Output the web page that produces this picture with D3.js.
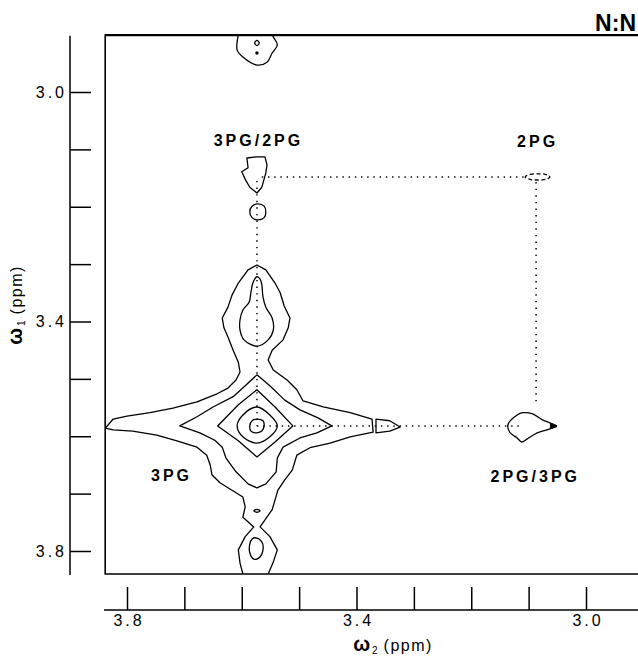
<!DOCTYPE html>
<html><head><meta charset="utf-8">
<script src="https://cdn.jsdelivr.net/npm/d3@7"></script>
<style>
body{margin:0;background:#fff}
svg text{font-family:"Liberation Sans",Arial,Helvetica,sans-serif;fill:#000}
</style>
</head><body>
<svg id="chart" width="638" height="659"></svg>
<script>
// ---------- data (ppm) ----------
const w2Domain = [3.8, 3.0];          // omega2 (horizontal)
const w1Domain = [3.0, 3.8];          // omega1 (vertical)
const frameW2 = [3.838, 2.85];
const frameW1 = [2.9007, 3.840];
const leftAxisW1 = [2.902, 3.842];
const bottomAxisW2 = [3.840, 2.85];
const tickValues = [3.0, 3.1, 3.2, 3.3, 3.4, 3.5, 3.6, 3.7, 3.8];
const labeledTicks = ["3.0", "3.4", "3.8"];

// outer contour of the 3PG diagonal peak (open: runs to the plot border)
const outerContour = [
[3.598,3.840],[3.603,3.821],[3.606,3.798],[3.594,3.775],[3.579,3.758],[3.598,3.741],[3.594,3.723],[3.598,3.706],
[3.617,3.694],[3.638,3.681],[3.652,3.667],[3.655,3.650],[3.661,3.633],[3.678,3.619],[3.713,3.608],[3.748,3.598],
[3.790,3.591],[3.824,3.589],[3.838,3.586],[3.824,3.570],[3.800,3.565],[3.760,3.559],[3.720,3.551],[3.678,3.540],
[3.643,3.526],[3.624,3.516],[3.610,3.502],[3.603,3.488],[3.606,3.471],[3.615,3.450],[3.624,3.427],[3.631,3.411],
[3.634,3.394],[3.624,3.375],[3.617,3.354],[3.606,3.333],[3.589,3.310],[3.5735,3.3015],[3.558,3.310],[3.542,3.333],
[3.533,3.350],[3.526,3.373],[3.516,3.394],[3.519,3.411],[3.528,3.432],[3.547,3.450],[3.554,3.467],[3.545,3.4845],
[3.521,3.502],[3.504,3.519],[3.493,3.5385],[3.458,3.549],[3.411,3.559],[3.373,3.570],[3.371,3.593],[3.411,3.601],
[3.446,3.612],[3.481,3.620],[3.504,3.633],[3.512,3.659],[3.525,3.676],[3.537,3.694],[3.542,3.711],[3.547,3.728],
[3.568,3.758],[3.551,3.775],[3.538,3.798],[3.545,3.819],[3.554,3.840]
];
const topLobe = [
[3.5735,3.322],[3.580,3.331],[3.584,3.349],[3.587,3.366],[3.598,3.380],[3.603,3.397],[3.603,3.415],[3.596,3.432],
[3.5735,3.443],[3.554,3.432],[3.545,3.415],[3.547,3.394],[3.558,3.375],[3.563,3.357],[3.565,3.336],[3.568,3.326]
];
const level2 = [
[3.5735,3.493],[3.594,3.512],[3.615,3.531],[3.650,3.549],[3.678,3.566],[3.708,3.582],[3.673,3.594],[3.647,3.607],
[3.634,3.619],[3.6275,3.638],[3.610,3.662],[3.589,3.683],[3.5735,3.690],[3.558,3.683],[3.540,3.662],[3.538,3.638],
[3.528,3.619],[3.4985,3.603],[3.469,3.594],[3.443,3.582],[3.467,3.568],[3.4985,3.554],[3.525,3.537],[3.551,3.512]
];
const level3 = [
[3.5735,3.519],[3.606,3.545],[3.642,3.582],[3.606,3.608],[3.5735,3.636],[3.542,3.610],[3.511,3.582],[3.542,3.549]
];
const level4 = [
[3.5735,3.549],[3.598,3.563],[3.608,3.582],[3.598,3.601],[3.5735,3.612],[3.551,3.601],[3.538,3.582],[3.551,3.563]
];
const level5 = [
[3.5735,3.570],[3.563,3.573],[3.561,3.582],[3.565,3.591],[3.5735,3.594],[3.584,3.591],[3.586,3.582],[3.582,3.573]
];
const tinyBelow = [[3.579,3.730],[3.5735,3.7275],[3.568,3.730],[3.5735,3.7325]];
const lowerLobe = [
[3.575,3.777],[3.565,3.784],[3.563,3.798],[3.570,3.812],[3.579,3.814],[3.586,3.803],[3.586,3.788],[3.582,3.779]
];
const armPiece = [[3.366,3.570],[3.342,3.573],[3.324,3.584],[3.342,3.591],[3.366,3.594]];
const crossPeakRight = [
[3.136,3.580],[3.120,3.563],[3.110,3.559],[3.093,3.561],[3.075,3.572],[3.051,3.582],[3.059,3.586],[3.085,3.594],
[3.103,3.605],[3.112,3.610],[3.120,3.603],[3.133,3.593]
];
const crossPeakRightTip = [[3.062,3.578],[3.051,3.582],[3.062,3.587]];
const diag2PG = [
[3.106,3.148],[3.0975,3.1435],[3.085,3.1427],[3.071,3.1435],[3.063,3.148],[3.071,3.1525],[3.085,3.1534],[3.0975,3.1525]
];
const crossPeakTop = [
[3.591,3.115],[3.575,3.113],[3.5595,3.113],[3.556,3.127],[3.558,3.141],[3.565,3.166],[3.5735,3.176],[3.586,3.166],
[3.593,3.154],[3.600,3.139],[3.589,3.132]
];
const smallCircle = [
[3.572,3.195],[3.561,3.199],[3.558,3.209],[3.561,3.219],[3.572,3.223],[3.582,3.219],[3.586,3.209],[3.582,3.199]
];
const topEdgePeak = [
[3.606,2.9007],[3.608,2.927],[3.598,2.939],[3.5735,2.953],[3.556,2.948],[3.547,2.932],[3.538,2.918],[3.545,2.904],[3.546,2.9007]
];
const topEdgeRing = [[3.5735,2.910],[3.5695,2.9146],[3.5735,2.919],[3.5775,2.9146]];
const topEdgeDot = [3.5735, 2.932];

// dotted connectivity lines
const hLinesW1 = [3.148, 3.582];
const hLinesFrom = [3.565, 3.5735];
const hLinesTo = [3.106, 3.112];
const vLinesW2 = [3.087, 3.5735];
const vLinesFrom = [3.157, 3.155];
const vLinesTo = [3.542, 3.582];

// peak labels
const labelTexts = ["3PG/2PG", "2PG", "3PG", "2PG/3PG"];
const labelW2 = [3.5735, 3.087, 3.725, 3.091];
const labelW1 = [3.0941, 3.096, 3.678, 3.680];

// ---------- drawing ----------
const svg = d3.select("#chart");
const x = d3.scaleLinear().domain(w2Domain).range([127, 586]);
const y = d3.scaleLinear().domain(w1Domain).range([92, 551]);

// clip to frame
svg.append("clipPath").attr("id","plotclip").append("rect")
  .attr("x", x(frameW2[0])).attr("y", y(frameW1[0]))
  .attr("width", x(frameW2[1]) - x(frameW2[0])).attr("height", y(frameW1[1]) - y(frameW1[0]));

// frame
const fx0 = x(frameW2[0]), fx1 = x(frameW2[1]), fy0 = y(frameW1[0]), fy1 = y(frameW1[1]);
svg.append("path").attr("d", `M${fx1},${fy0}H${fx0}V${fy1}H${fx1}`)
  .attr("fill","none").attr("stroke","#000").attr("stroke-width",1.6);
svg.append("line").attr("x1",fx0).attr("x2",fx1).attr("y1",fy0).attr("y2",fy0)
  .attr("stroke","#000").attr("stroke-width",2.2);

// left axis
const leftG = svg.append("g").attr("transform","translate(70,0)");
leftG.call(d3.axisLeft(y).tickValues(tickValues).tickSizeInner(-21).tickSizeOuter(0).tickPadding(3)
  .tickFormat(d => labeledTicks.includes(d.toFixed(1)) ? d.toFixed(1) : ""));
leftG.select(".domain").remove();
leftG.selectAll(".tick line").attr("stroke","#000").attr("stroke-width",1.5);
leftG.selectAll(".tick text").style("font-size","16px").style("letter-spacing","3px").attr("font-family",null);
leftG.append("line").attr("x1",0).attr("x2",0).attr("y1",y(leftAxisW1[0])).attr("y2",y(leftAxisW1[1]))
  .attr("stroke","#000").attr("stroke-width",1.5);

// bottom axis
const botG = svg.append("g").attr("transform","translate(0,610)");
botG.call(d3.axisBottom(x).tickValues(tickValues).tickSizeInner(-23).tickSizeOuter(0).tickPadding(5)
  .tickFormat(d => labeledTicks.includes(d.toFixed(1)) ? d.toFixed(1) : ""));
botG.select(".domain").remove();
botG.selectAll(".tick line").attr("stroke","#000").attr("stroke-width",1.5);
botG.selectAll(".tick text").style("font-size","16px").style("letter-spacing","3px").attr("font-family",null)
  .attr("dx","1.5px");
botG.append("line").attr("x1",x(bottomAxisW2[0])).attr("x2",x(bottomAxisW2[1])).attr("y1",0).attr("y2",0)
  .attr("stroke","#000").attr("stroke-width",1.5);

// axis titles
const xt = svg.append("text").attr("x", 393).attr("y", 651).attr("text-anchor","middle");
xt.append("tspan").text("ω").style("font-weight","bold").style("font-size","20px");
xt.append("tspan").text("2").style("font-size","10px").attr("dy",3).attr("dx",2);
xt.append("tspan").text(" (ppm)").style("font-size","16px").style("letter-spacing","1.5px").attr("dy",-3);

const yt = svg.append("text").attr("transform","translate(22,305) rotate(-90)").attr("text-anchor","middle");
yt.append("tspan").text("ω").style("font-weight","bold").style("font-size","20px");
yt.append("tspan").text("1").style("font-size","10px").attr("dy",3).attr("dx",2);
yt.append("tspan").text(" (ppm)").style("font-size","16px").style("letter-spacing","1.5px").attr("dy",-3);

// N:N
svg.append("text").attr("x", 636).attr("y", 31).attr("text-anchor","end")
  .style("font-weight","bold").style("font-size","23px").text("N:N");

// contours
const plot = svg.append("g").attr("clip-path","url(#plotclip)");
const lineOpen = d3.line().x(d => x(d[0])).y(d => y(d[1])).curve(d3.curveLinear);
const lineClosed = d3.line().x(d => x(d[0])).y(d => y(d[1])).curve(d3.curveLinearClosed);
const lineSmooth = d3.line().x(d => x(d[0])).y(d => y(d[1])).curve(d3.curveCatmullRomClosed);

function draw(data, gen, extra){
  const p = plot.append("path").attr("d", gen(data)).attr("fill","none")
    .attr("stroke","#000").attr("stroke-width",1.3).attr("stroke-linejoin","round");
  if (extra) extra(p);
  return p;
}
draw(outerContour, lineOpen);
draw(topLobe, lineSmooth);
draw(level2, lineClosed);
draw(level3, lineClosed);
draw(level4, lineSmooth);
draw(level5, lineSmooth);
draw(tinyBelow, lineSmooth);
draw(lowerLobe, lineSmooth);
draw(armPiece, lineClosed);
draw(crossPeakRight, lineSmooth);
plot.append("path").attr("d", lineClosed(crossPeakRightTip)).attr("fill","#000").attr("stroke","#000").attr("stroke-width",1);
draw(diag2PG, lineSmooth, p => p.attr("stroke-dasharray","4 2.5"));
draw(crossPeakTop, lineClosed);
draw(smallCircle, lineSmooth);
draw(topEdgePeak, d3.line().x(d => x(d[0])).y(d => y(d[1])).curve(d3.curveCatmullRom));
draw(topEdgeRing, lineSmooth);
plot.append("circle").attr("cx", x(topEdgeDot[0])).attr("cy", y(topEdgeDot[1])).attr("r", 1.7).attr("fill","#000");

// dotted lines
hLinesW1.forEach((w1, i) => {
  plot.append("line").attr("x1", x(hLinesFrom[i])).attr("x2", x(hLinesTo[i]))
    .attr("y1", y(w1)).attr("y2", y(w1))
    .attr("stroke","#000").attr("stroke-width",1.5).attr("stroke-dasharray","1.4 4.8");
});
vLinesW2.forEach((w2, i) => {
  plot.append("line").attr("x1", x(w2)).attr("x2", x(w2))
    .attr("y1", y(vLinesFrom[i])).attr("y2", y(vLinesTo[i]))
    .attr("stroke","#000").attr("stroke-width",1.5).attr("stroke-dasharray","1.4 5.2");
});

// labels
labelTexts.forEach((t, i) => {
  svg.append("text").attr("x", x(labelW2[i]) + 1.5).attr("y", y(labelW1[i]))
    .attr("text-anchor","middle").style("font-weight","bold").style("font-size","16px")
    .style("letter-spacing","3px").text(t);
});
</script>
</body></html>
